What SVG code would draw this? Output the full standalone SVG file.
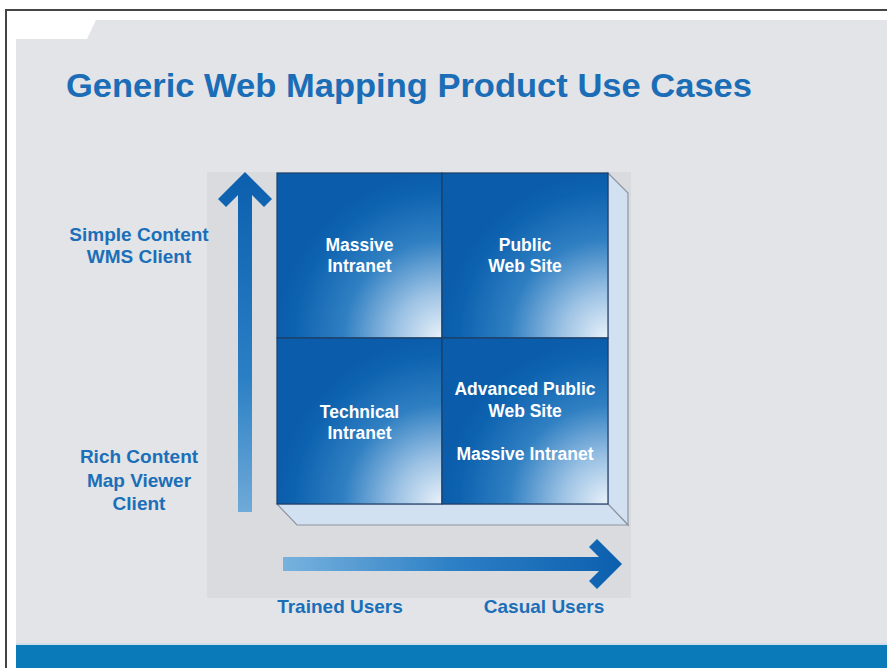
<svg xmlns="http://www.w3.org/2000/svg" width="887" height="668" viewBox="0 0 887 668">
  <style>
    .title { font-family: "Liberation Sans", Arial, sans-serif; font-weight: bold; fill: #1a6db6; }
    .lbl { font-family: "Liberation Sans", Arial, sans-serif; font-weight: bold; font-size: 19px; fill: #1b6fb8; text-anchor: middle; }
    .cell { font-family: "Liberation Sans", Arial, sans-serif; font-weight: bold; font-size: 17.5px; fill: #ffffff; text-anchor: middle; }
    .quad { stroke: #1d3f66; stroke-width: 1.2; }
    .face { fill: #d2e1f2; stroke: #8e96a0; stroke-width: 1.2; }
  </style>
  <defs>
    <radialGradient id="quadFill" cx="1" cy="1" r="1" fx="1" fy="1">
      <stop offset="0" stop-color="#eaf2fa"/>
      <stop offset="0.28" stop-color="#9cc2e4"/>
      <stop offset="0.6" stop-color="#2f7fc2"/>
      <stop offset="0.9" stop-color="#0d62af"/>
      <stop offset="1" stop-color="#0b5dab"/>
    </radialGradient>
    <linearGradient id="upFill" x1="0" y1="0" x2="0" y2="1">
      <stop offset="0" stop-color="#0b5fae"/>
      <stop offset="0.6" stop-color="#2a7fc4"/>
      <stop offset="1" stop-color="#6faad8"/>
    </linearGradient>
    <linearGradient id="rightFill" x1="0" y1="0" x2="1" y2="0">
      <stop offset="0" stop-color="#78b2de"/>
      <stop offset="0.5" stop-color="#2d80c5"/>
      <stop offset="1" stop-color="#0b5fae"/>
    </linearGradient>
  </defs>

  <!-- page -->
  <rect x="0" y="0" width="887" height="668" fill="#ffffff"/>
  <path d="M16 39 H87 L96 20 H887 V668 H16 Z" fill="#e2e4e7"/>
  <path d="M6 668 V10 H887" fill="none" stroke="#444444" stroke-width="2"/>
  <rect x="16" y="645" width="871" height="23" fill="#0a7ab8"/>
  <line x1="16" y1="644" x2="887" y2="644" stroke="#c9dced" stroke-width="1.5"/>

  <text class="title" x="66" y="97" font-size="34" textLength="686" lengthAdjust="spacingAndGlyphs">Generic Web Mapping Product Use Cases</text>

  <!-- chart backdrop -->
  <rect x="207" y="172" width="424" height="426" fill="#d9dbdf"/>

  <!-- 3D block faces -->
  <g id="block-depth">
    <polygon class="face" points="608,173 628,193 628,525 608,504"/>
    <polygon class="face" points="277,504 608,504 628,525 297,525"/>
  </g>

  <g id="q-massive-intranet">
    <rect class="quad" x="277" y="173" width="165" height="165" fill="url(#quadFill)"/>
    <text class="cell" x="359.5" y="251">Massive</text>
    <text class="cell" x="359.5" y="272">Intranet</text>
  </g>
  <g id="q-public-web-site">
    <rect class="quad" x="442" y="173" width="166" height="165" fill="url(#quadFill)"/>
    <text class="cell" x="525" y="251">Public</text>
    <text class="cell" x="525" y="272">Web Site</text>
  </g>
  <g id="q-technical-intranet">
    <rect class="quad" x="277" y="338" width="165" height="166" fill="url(#quadFill)"/>
    <text class="cell" x="359.5" y="418">Technical</text>
    <text class="cell" x="359.5" y="439">Intranet</text>
  </g>
  <g id="q-advanced-public">
    <rect class="quad" x="442" y="338" width="166" height="166" fill="url(#quadFill)"/>
    <text class="cell" x="525" y="395">Advanced Public</text>
    <text class="cell" x="525" y="417">Web Site</text>
    <text class="cell" x="525" y="460">Massive Intranet</text>
  </g>

  <!-- axes -->
  <g id="axes">
    <path d="M238 512 V195 L226 207 L218 199 L245 172 L272 199 L264 207 L252 195 V512 Z" fill="url(#upFill)"/>
    <path d="M283 557 H599 L589 547 L597 539 L622 564 L597 589 L589 581 L599 571 H283 Z" fill="url(#rightFill)"/>
  </g>

  <g id="axis-labels">
    <text class="lbl" x="139" y="241">Simple Content</text>
    <text class="lbl" x="139" y="263">WMS Client</text>
    <text class="lbl" x="139" y="463">Rich Content</text>
    <text class="lbl" x="139" y="487">Map Viewer</text>
    <text class="lbl" x="139" y="510">Client</text>
    <text class="lbl" x="340" y="613">Trained Users</text>
    <text class="lbl" x="544" y="613">Casual Users</text>
  </g>
</svg>
